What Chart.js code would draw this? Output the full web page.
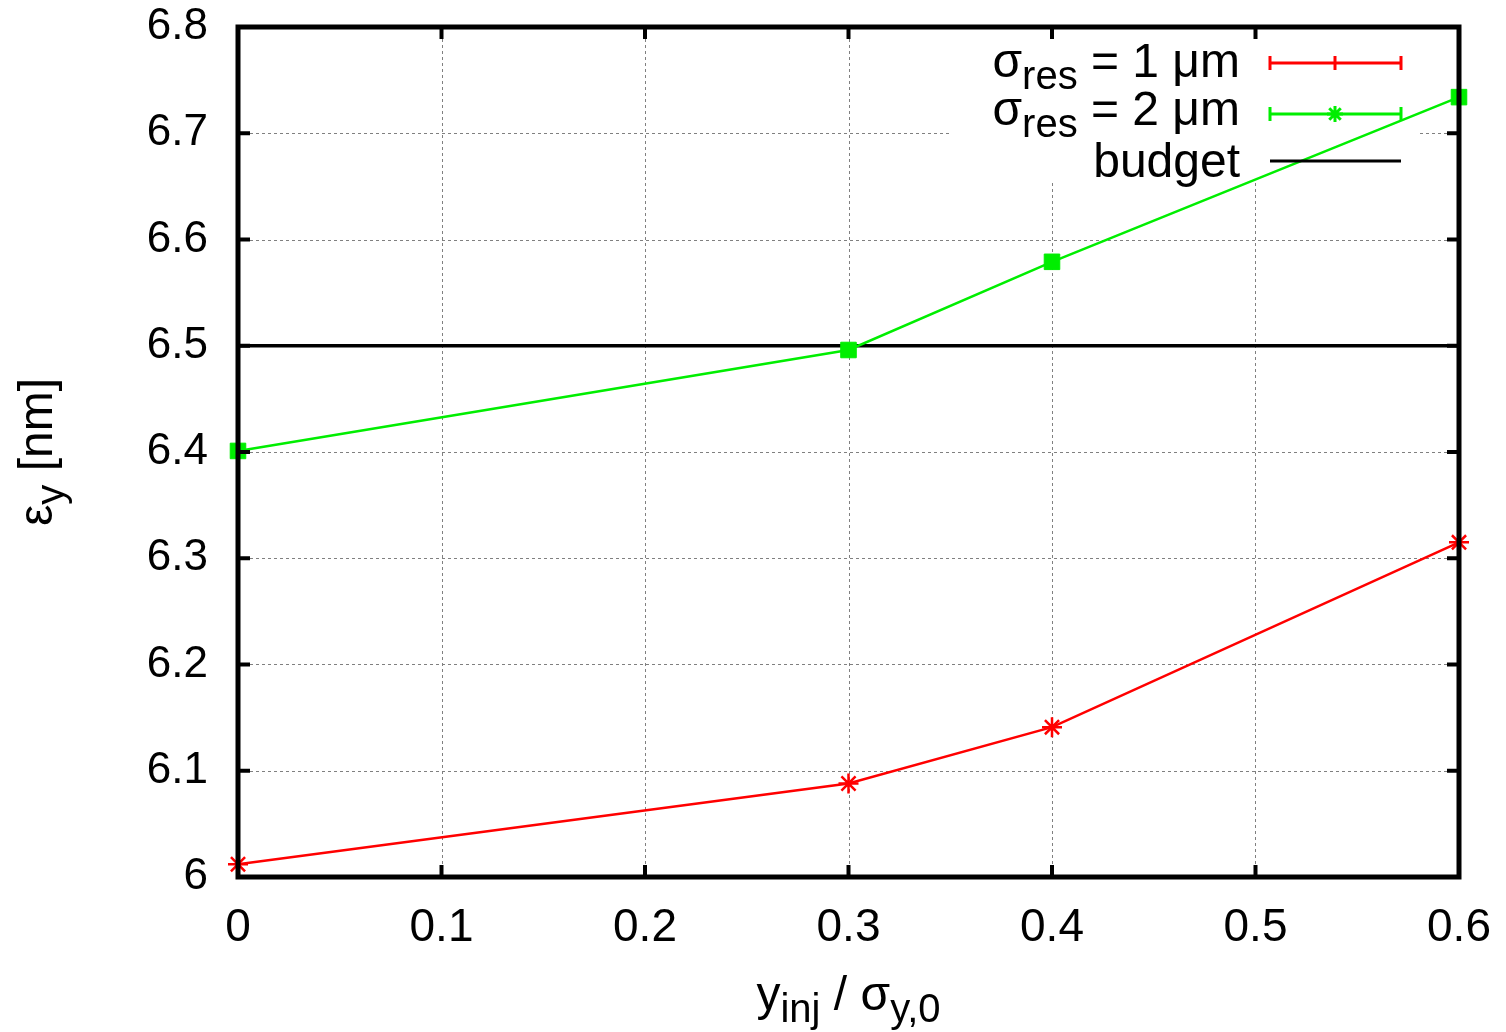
<!DOCTYPE html>
<html>
<head>
<meta charset="utf-8">
<script src="https://cdn.jsdelivr.net/npm/chart.js@4.4.1/dist/chart.umd.min.js"></script>
<style>
  html, body { margin: 0; padding: 0; background: #fff; }
  #wrap { width: 1506px; height: 1032px; }
</style>
</head>
<body>
<div id="wrap"><canvas id="emitChart" width="1506" height="1032"></canvas></div>
<script>
// --- data ---
const xValues = [0, 0.3, 0.4, 0.6];
const res1um = [6.012, 6.088, 6.141, 6.315];   // sigma_res = 1 um
const res2um = [6.401, 6.496, 6.579, 6.734];   // sigma_res = 2 um
const budgetX = [0, 0.6];
const budgetY = [6.5, 6.5];

const FONT = "'Liberation Sans', Arial, Helvetica, sans-serif";
const RED = '#ff0000';
const GREEN = '#00ee00';

const toPoints = (xs, ys) => xs.map((x, i) => ({ x: x, y: ys[i] }));

// draw text made of pieces, some of them subscript
function drawRich(ctx, parts, x, y, align) {
    let total = 0;
    parts.forEach(p => {
        ctx.font = p.size + 'px ' + FONT;
        p.w = ctx.measureText(p.t).width;
        total += p.w;
    });
    let cx = align === 'right' ? x - total : align === 'center' ? x - total / 2 : x;
    ctx.textAlign = 'left';
    ctx.textBaseline = 'alphabetic';
    parts.forEach(p => {
        ctx.font = p.size + 'px ' + FONT;
        ctx.fillText(p.t, cx, y + (p.dy || 0));
        cx += p.w;
    });
}

function drawAsterisk(ctx, x, y, r) {
    ctx.beginPath();
    ctx.moveTo(x - r, y); ctx.lineTo(x + r, y);
    ctx.moveTo(x, y - r); ctx.lineTo(x, y + r);
    const d = r * 0.72;
    ctx.moveTo(x - d, y - d); ctx.lineTo(x + d, y + d);
    ctx.moveTo(x - d, y + d); ctx.lineTo(x + d, y - d);
    ctx.stroke();
}

const gnuplotLook = {
    id: 'gnuplotLook',
    beforeDatasetsDraw(chart) {
        const { ctx, chartArea: a, scales } = chart;
        ctx.save();
        // dotted grid
        ctx.strokeStyle = '#808080';
        ctx.lineWidth = 1;
        ctx.setLineDash([3, 3]);
        scales.x.ticks.forEach(t => {
            const px = Math.round(scales.x.getPixelForValue(t.value)) + 0.5;
            ctx.beginPath(); ctx.moveTo(px, a.top); ctx.lineTo(px, a.bottom); ctx.stroke();
        });
        scales.y.ticks.forEach(t => {
            const py = Math.round(scales.y.getPixelForValue(t.value)) + 0.5;
            ctx.beginPath(); ctx.moveTo(a.left, py); ctx.lineTo(a.right, py); ctx.stroke();
        });
        ctx.setLineDash([]);
        // opaque key box
        ctx.fillStyle = '#fff';
        ctx.fillRect(950, a.top + 2, 468, 183 - a.top - 2);
        ctx.restore();
    },
    afterDatasetsDraw(chart) {
        const { ctx, chartArea: a, scales } = chart;
        ctx.save();
        ctx.fillStyle = '#000';

        // key
        const tx = 1240, s1 = 1270, s2 = 1401, mid = 1335;
        drawRich(ctx, [{ t: 'σ', size: 48 }, { t: 'res', size: 40, dy: 12 }, { t: ' = 1 μm', size: 48 }], tx, 77, 'right');
        drawRich(ctx, [{ t: 'σ', size: 48 }, { t: 'res', size: 40, dy: 12 }, { t: ' = 2 μm', size: 48 }], tx, 125, 'right');
        drawRich(ctx, [{ t: 'budget', size: 48 }], tx, 177, 'right');

        ctx.lineWidth = 3;
        [[RED, 63], [GREEN, 114]].forEach(([col, yy]) => {
            ctx.strokeStyle = col;
            ctx.beginPath();
            ctx.moveTo(s1, yy); ctx.lineTo(s2, yy);
            ctx.moveTo(s1, yy - 7); ctx.lineTo(s1, yy + 7);
            ctx.moveTo(s2, yy - 7); ctx.lineTo(s2, yy + 7);
            ctx.stroke();
        });
        ctx.strokeStyle = RED;
        ctx.beginPath(); ctx.moveTo(mid, 56); ctx.lineTo(mid, 70); ctx.stroke();
        ctx.strokeStyle = GREEN;
        drawAsterisk(ctx, mid, 114, 8);
        ctx.strokeStyle = '#000';
        ctx.beginPath(); ctx.moveTo(s1, 161); ctx.lineTo(s2, 161); ctx.stroke();

        // border and inward mirrored ticks
        ctx.strokeStyle = '#000';
        ctx.lineWidth = 5;
        ctx.strokeRect(a.left, a.top, a.right - a.left, a.bottom - a.top);
        const len = 12;
        ctx.lineWidth = 4;
        ctx.beginPath();
        scales.x.ticks.forEach(t => {
            const px = scales.x.getPixelForValue(t.value);
            ctx.moveTo(px, a.bottom); ctx.lineTo(px, a.bottom - len);
            ctx.moveTo(px, a.top); ctx.lineTo(px, a.top + len);
        });
        scales.y.ticks.forEach(t => {
            const py = scales.y.getPixelForValue(t.value);
            ctx.moveTo(a.left, py); ctx.lineTo(a.left + len, py);
            ctx.moveTo(a.right, py); ctx.lineTo(a.right - len, py);
        });
        ctx.stroke();

        // axis titles
        drawRich(ctx, [{ t: 'y', size: 48 }, { t: 'inj', size: 40, dy: 12 }, { t: ' / ', size: 48 },
                       { t: 'σ', size: 48 }, { t: 'y,0', size: 40, dy: 12 }], (a.left + a.right) / 2, 1010, 'center');
        ctx.translate(52, (a.top + a.bottom) / 2);
        ctx.rotate(-Math.PI / 2);
        drawRich(ctx, [{ t: 'ε', size: 48 }, { t: 'y', size: 40, dy: 12 }, { t: ' [nm]', size: 48 }], 0, 0, 'center');
        ctx.restore();
    }
};

const fmt = v => String(Number(v.toFixed(1)));

new Chart(document.getElementById('emitChart'), {
    type: 'scatter',
    data: {
        datasets: [
            {
                label: 'budget',
                data: toPoints(budgetX, budgetY),
                showLine: true,
                borderColor: '#000',
                borderWidth: 3.5,
                pointRadius: 0,
                order: 3
            },
            {
                label: 'σres = 1 μm',
                data: toPoints(xValues, res1um),
                showLine: true,
                borderColor: RED,
                backgroundColor: RED,
                borderWidth: 2.5,
                pointStyle: 'star',
                pointRadius: 10,
                pointBorderWidth: 2.5,
                clip: false,
                order: 2
            },
            {
                label: 'σres = 2 μm',
                data: toPoints(xValues, res2um),
                showLine: true,
                borderColor: GREEN,
                backgroundColor: GREEN,
                borderWidth: 2.5,
                pointStyle: 'rect',
                pointRadius: 11,
                pointBorderWidth: 1,
                clip: false,
                order: 1
            }
        ]
    },
    options: {
        responsive: false,
        animation: false,
        layout: { padding: { top: 27, right: 47, left: 0, bottom: 0 } },
        plugins: {
            legend: { display: false },
            tooltip: { enabled: false }
        },
        scales: {
            x: {
                type: 'linear',
                min: 0,
                max: 0.6,
                afterFit: s => { s.height = 155; s.paddingLeft = 0; s.paddingRight = 0; },
                grid: { display: false, drawTicks: false },
                border: { display: false },
                ticks: {
                    stepSize: 0.1,
                    padding: 24,
                    color: '#000',
                    font: { family: FONT, size: 46 },
                    callback: fmt
                }
            },
            y: {
                type: 'linear',
                min: 6,
                max: 6.8,
                afterFit: s => { s.width = 238; s.paddingTop = 0; s.paddingBottom = 0; },
                grid: { display: false, drawTicks: false },
                border: { display: false },
                ticks: {
                    stepSize: 0.1,
                    padding: 30,
                    color: '#000',
                    font: { family: FONT, size: 44 },
                    callback: fmt
                }
            }
        }
    },
    plugins: [gnuplotLook]
});
</script>
</body>
</html>
